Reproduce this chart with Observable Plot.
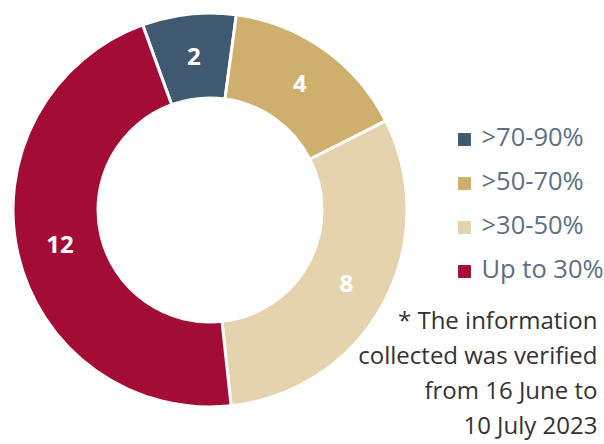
<!DOCTYPE html>
<html><head><meta charset="utf-8">
<script src="https://cdn.jsdelivr.net/npm/d3@7"></script>
<script src="https://cdn.jsdelivr.net/npm/@observablehq/plot@0.6"></script>
<style>html,body{margin:0;padding:0;background:#fff;overflow:hidden} svg{display:block}</style>
</head><body><div id="chart"></div>
<script>
// ---- data ----
const categories = [">70-90%", ">50-70%", ">30-50%", "Up to 30%"];
const values = [2, 4, 8, 12];
const colors = ["#3f5a70", "#cfaf6e", "#e5d3ae", "#a30d35"];
const footnoteLines = ["* The information", "collected was verified", "from 16 June to", "10 July 2023"];

// ---- layout ----
const W = 604, H = 444;
const CX = 210, CY = 210, R = 197, INNER = 112 / 197;
const toX = px => (px - CX) / R;   // pixel -> data unit helpers for layout
const toY = py => (CY - py) / R;

const pie = d3.pie().sort(null)
  .startAngle(-20 * Math.PI / 180)
  .endAngle(340 * Math.PI / 180)(values);
const labelR = (1 + INNER) / 2;
const slices = pie.map((p, i) => {
  const mid = (p.startAngle + p.endAngle) / 2;
  return {
    category: categories[i], value: values[i],
    start: p.startAngle, end: p.endAngle,
    lx: labelR * Math.sin(mid), ly: labelR * Math.cos(mid),
    legY: toY(139 + i * 44)
  };
});

function donut(index, scales) {
  const cx = scales.x(0), cy = scales.y(0);
  const r = scales.x(1) - cx;
  const arc = d3.arc().innerRadius(r * INNER).outerRadius(r);
  const g = d3.create("svg:g").attr("transform", `translate(${cx},${cy})`);
  g.selectAll("path").data(slices).join("path")
    .attr("d", s => arc({startAngle: s.start, endAngle: s.end}))
    .attr("fill", s => scales.color(s.category))
    .attr("stroke", "#fff").attr("stroke-width", 3).attr("stroke-linejoin", "round");
  return g.node();
}

const chart = Plot.plot({
  width: W, height: H,
  marginLeft: CX - R, marginRight: W - (CX + R),
  marginTop: CY - R, marginBottom: H - (CY + R),
  x: {domain: [-1, 1], axis: null},
  y: {domain: [-1, 1], axis: null},
  color: {domain: categories, range: colors},
  style: {fontFamily: "'Open Sans', 'Noto Sans', sans-serif", background: "#fff", overflow: "visible"},
  marks: [
    donut,
    Plot.text(slices, {x: "lx", y: "ly", text: d => String(d.value), fill: "#fff",
      fontSize: 24, fontWeight: "bold", clip: false}),
    Plot.dot(slices, {x: toX(464), y: "legY", symbol: "square", r: 7.3, fill: "category", clip: false}),
    Plot.text(slices, {x: toX(481), y: "legY", dy: -2, text: "category", textAnchor: "start",
      fill: "#5b7086", fontSize: 25.5, clip: false}),
    Plot.text([footnoteLines.join("\n")], {x: toX(597), y: toY(304), text: d => d,
      textAnchor: "end", lineAnchor: "top", lineHeight: 1.46, fill: "#333",
      fontSize: 24, clip: false})
  ]
});
document.getElementById("chart").append(chart);
</script>
</body></html>
